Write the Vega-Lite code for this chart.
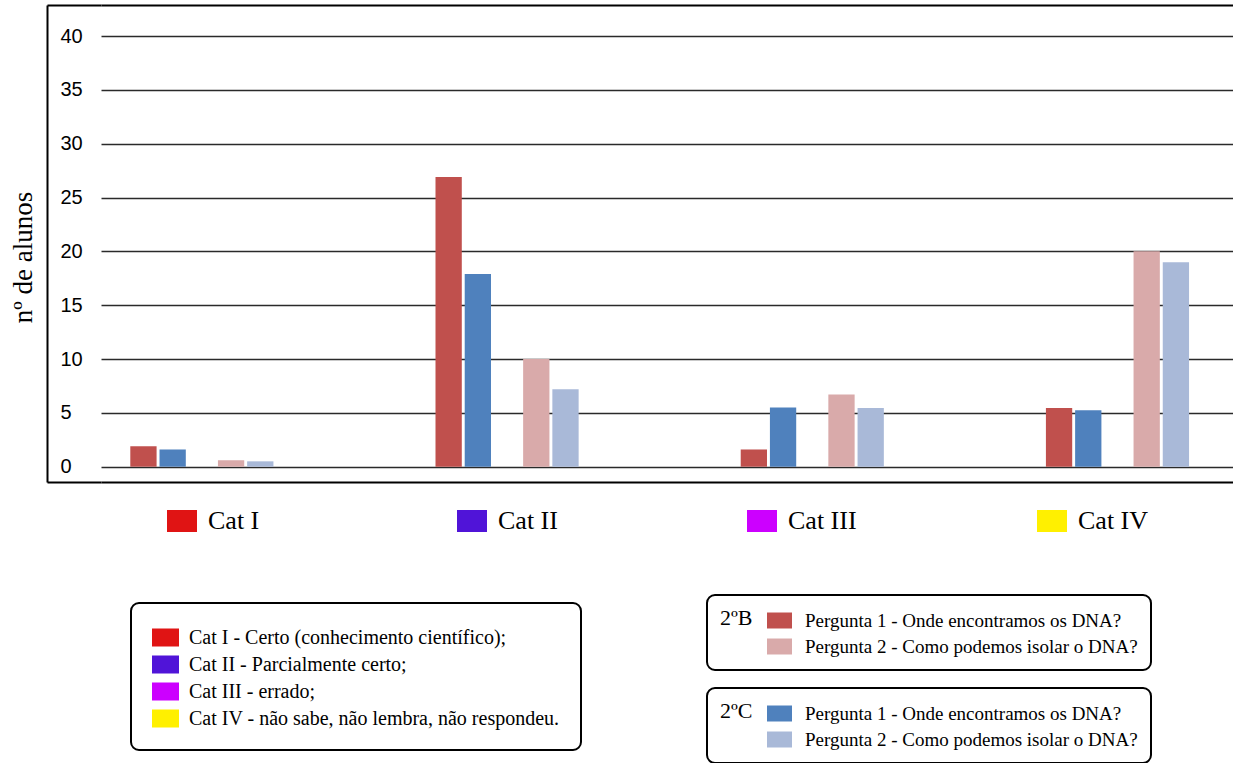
{
  "$schema": "https://vega.github.io/schema/vega-lite/v6.json",
  "width": 1132,
  "height": 477,
  "autosize": {"type": "none"},
  "padding": {"left": 101, "top": 5, "right": 0, "bottom": 281},
  "background": "white",
  "config": {"view": {"stroke": null}, "legend": {"strokeWidth": 2}},
  "datasets": {
    "turmaB": [
      {"grupo": "Cat I", "ordem": "B1", "pergunta": "Pergunta 1 - Onde encontramos os DNA?", "valor": 1.9},
      {"grupo": "Cat I", "ordem": "B2", "pergunta": "Pergunta 2 - Como podemos isolar o DNA?", "valor": 0.6},
      {"grupo": "Cat II", "ordem": "B1", "pergunta": "Pergunta 1 - Onde encontramos os DNA?", "valor": 26.9},
      {"grupo": "Cat II", "ordem": "B2", "pergunta": "Pergunta 2 - Como podemos isolar o DNA?", "valor": 10.0},
      {"grupo": "Cat III", "ordem": "B1", "pergunta": "Pergunta 1 - Onde encontramos os DNA?", "valor": 1.6},
      {"grupo": "Cat III", "ordem": "B2", "pergunta": "Pergunta 2 - Como podemos isolar o DNA?", "valor": 6.7},
      {"grupo": "Cat IV", "ordem": "B1", "pergunta": "Pergunta 1 - Onde encontramos os DNA?", "valor": 5.45},
      {"grupo": "Cat IV", "ordem": "B2", "pergunta": "Pergunta 2 - Como podemos isolar o DNA?", "valor": 20.0}
    ],
    "turmaC": [
      {"grupo": "Cat I", "ordem": "C1", "pergunta": "Pergunta 1 - Onde encontramos os DNA?", "valor": 1.6},
      {"grupo": "Cat I", "ordem": "C2", "pergunta": "Pergunta 2 - Como podemos isolar o DNA?", "valor": 0.5},
      {"grupo": "Cat II", "ordem": "C1", "pergunta": "Pergunta 1 - Onde encontramos os DNA?", "valor": 17.9},
      {"grupo": "Cat II", "ordem": "C2", "pergunta": "Pergunta 2 - Como podemos isolar o DNA?", "valor": 7.2},
      {"grupo": "Cat III", "ordem": "C1", "pergunta": "Pergunta 1 - Onde encontramos os DNA?", "valor": 5.5},
      {"grupo": "Cat III", "ordem": "C2", "pergunta": "Pergunta 2 - Como podemos isolar o DNA?", "valor": 5.45},
      {"grupo": "Cat IV", "ordem": "C1", "pergunta": "Pergunta 1 - Onde encontramos os DNA?", "valor": 5.25},
      {"grupo": "Cat IV", "ordem": "C2", "pergunta": "Pergunta 2 - Como podemos isolar o DNA?", "valor": 19.0}
    ],
    "cats": [
      {"cat": "Cat I", "desc": "Cat  I - Certo (conhecimento científico);"},
      {"cat": "Cat II", "desc": "Cat II - Parcialmente certo;"},
      {"cat": "Cat III", "desc": "Cat III - errado;"},
      {"cat": "Cat IV", "desc": "Cat IV - não sabe, não lembra, não respondeu."}
    ]
  },
  "layer": [
    {
      "data": {"name": "turmaB"},
      "mark": {"type": "bar"},
      "encoding": {
        "x": {
          "field": "grupo", "type": "nominal",
          "sort": ["Cat I", "Cat II", "Cat III", "Cat IV"],
          "scale": {"domain": ["Cat I", "Cat II", "Cat III", "Cat IV"], "paddingInner": 0.531, "paddingOuter": 0.12, "align": 0.4},
          "axis": {"orient": "bottom", "labels": false, "ticks": false, "grid": false, "domain": true, "domainColor": "black", "domainWidth": 2, "title": null}
        },
        "xOffset": {
          "field": "ordem", "type": "nominal",
          "scale": {"domain": ["B1", "C1", "gap", "B2", "C2"], "paddingInner": 0.1}
        },
        "y": {
          "field": "valor", "type": "quantitative", "stack": null,
          "scale": {"domain": [-1.42, 42.88], "nice": false},
          "axis": {
            "orient": "left", "offset": 54,
            "values": [0, 5, 10, 15, 20, 25, 30, 35, 40],
            "domain": true, "domainColor": "black", "domainWidth": 2,
            "ticks": false, "tickSize": 0,
            "labelPadding": -13, "labelAlign": "left", "labelFont": "Liberation Sans", "labelFontSize": 20, "labelColor": "black",
            "grid": true, "gridColor": "#2a2a2a", "gridWidth": 1.5,
            "title": "nº de alunos", "titleFont": "Liberation Serif", "titleFontSize": 27, "titleFontWeight": "normal", "titleColor": "black",
            "titleAngle": -90, "titleX": -24, "titleY": 252, "titleBaseline": "middle", "titleAlign": "center"
          }
        },
        "color": {
          "field": "pergunta", "type": "nominal",
          "scale": {"domain": ["Pergunta 1 - Onde encontramos os DNA?", "Pergunta 2 - Como podemos isolar o DNA?"], "range": ["#C0504D", "#D9AAAA"]},
          "legend": {
            "title": "2ºB", "orient": "none", "legendX": 606, "legendY": 590,
            "titleOrient": "left", "titleAnchor": "start", "titleBaseline": "top",
            "titleFont": "Liberation Serif", "titleFontSize": 22, "titleFontWeight": "normal", "titleColor": "black", "titlePadding": 14,
            "labelFont": "Liberation Serif", "labelFontSize": 19, "labelColor": "black", "labelLimit": 600, "labelOffset": 13,
            "symbolType": "M-1,-0.64L1,-0.64L1,0.64L-1,0.64Z", "symbolSize": 625, "symbolStrokeWidth": 0, "symbolOpacity": 1,
            "rowPadding": 3, "padding": 13, "strokeColor": "black", "cornerRadius": 8, "fillColor": "white"
          }
        }
      }
    },
    {
      "data": {"name": "turmaC"},
      "mark": {"type": "bar"},
      "encoding": {
        "x": {
          "field": "grupo", "type": "nominal",
          "sort": ["Cat I", "Cat II", "Cat III", "Cat IV"],
          "scale": {"domain": ["Cat I", "Cat II", "Cat III", "Cat IV"], "paddingInner": 0.531, "paddingOuter": 0.12, "align": 0.4},
          "axis": {"orient": "top", "labels": false, "ticks": false, "grid": false, "domain": true, "domainColor": "black", "domainWidth": 2, "title": null}
        },
        "xOffset": {
          "field": "ordem", "type": "nominal",
          "scale": {"domain": ["B1", "C1", "gap", "B2", "C2"], "paddingInner": 0.1}
        },
        "y": {
          "field": "valor", "type": "quantitative", "stack": null,
          "scale": {"domain": [-1.42, 42.88], "nice": false},
          "axis": {
            "orient": "left", "offset": 54,
            "values": [-1.42, 42.88],
            "domain": false, "labels": false, "grid": false, "title": null,
            "ticks": true, "tickSize": -54, "tickWidth": 2, "tickColor": "black"
          }
        },
        "color": {
          "field": "pergunta", "type": "nominal",
          "scale": {"domain": ["Pergunta 1 - Onde encontramos os DNA?", "Pergunta 2 - Como podemos isolar o DNA?"], "range": ["#4F81BD", "#A9B9D8"]},
          "legend": {
            "title": "2ºC", "orient": "none", "legendX": 606, "legendY": 683,
            "titleOrient": "left", "titleAnchor": "start", "titleBaseline": "top",
            "titleFont": "Liberation Serif", "titleFontSize": 22, "titleFontWeight": "normal", "titleColor": "black", "titlePadding": 14,
            "labelFont": "Liberation Serif", "labelFontSize": 19, "labelColor": "black", "labelLimit": 600, "labelOffset": 13,
            "symbolType": "M-1,-0.64L1,-0.64L1,0.64L-1,0.64Z", "symbolSize": 625, "symbolStrokeWidth": 0, "symbolOpacity": 1,
            "rowPadding": 3, "padding": 13, "strokeColor": "black", "cornerRadius": 8, "fillColor": "white"
          }
        }
      }
    },
    {
      "data": {"name": "cats"},
      "mark": {"type": "bar"},
      "encoding": {
        "y": {"datum": 0, "type": "quantitative", "scale": {"domain": [-1.42, 42.88], "nice": false}, "axis": null},
        "color": {
          "field": "desc", "type": "nominal",
          "scale": {"domain": ["Cat  I - Certo (conhecimento científico);", "Cat II - Parcialmente certo;", "Cat III - errado;", "Cat IV - não sabe, não lembra, não respondeu."], "range": ["#E01414", "#5014D8", "#CC00FF", "#FFF000"]},
          "legend": {
            "title": null, "orient": "none", "legendX": 30, "legendY": 598,
            "labelFont": "Liberation Serif", "labelFontSize": 20, "labelColor": "black", "labelLimit": 600, "labelOffset": 10,
            "symbolType": "M-1,-0.667L1,-0.667L1,0.667L-1,0.667Z", "symbolSize": 729, "symbolStrokeWidth": 0, "symbolOpacity": 1,
            "rowPadding": 3, "padding": 21, "strokeColor": "black", "cornerRadius": 8, "fillColor": "white"
          }
        }
      }
    },
    {
      "data": {"name": "cats"},
      "mark": {"type": "bar"},
      "encoding": {
        "y": {"datum": 0, "type": "quantitative", "scale": {"domain": [-1.42, 42.88], "nice": false}, "axis": null},
        "color": {
          "field": "cat", "type": "nominal",
          "scale": {"domain": ["Cat I", "Cat II", "Cat III", "Cat IV"], "range": ["#E01414", "#5014D8", "#CC00FF", "#FFF000"]},
          "legend": {
            "title": null, "orient": "none", "legendX": 66, "legendY": 501,
            "direction": "horizontal", "columns": 4, "gridAlign": "all", "columnPadding": 178,
            "labelFont": "Liberation Serif", "labelFontSize": 26, "labelColor": "black", "labelLimit": 300, "labelOffset": 11,
            "symbolType": "M-1,-0.733L1,-0.733L1,0.733L-1,0.733Z", "symbolSize": 900, "symbolStrokeWidth": 0, "symbolOpacity": 1,
            "padding": 0
          }
        }
      }
    }
  ],
  "resolve": {
    "scale": {"color": "independent"},
    "axis": {"x": "independent", "y": "independent"},
    "legend": {"color": "independent"}
  }
}
